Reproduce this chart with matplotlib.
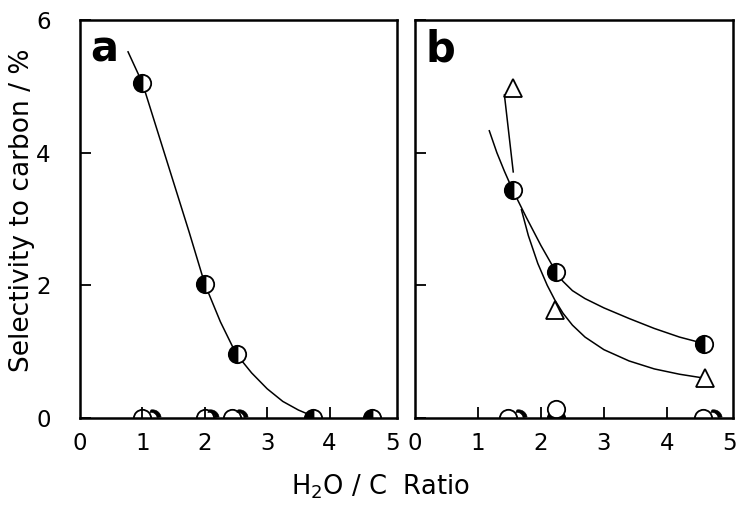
import numpy as np
import matplotlib
matplotlib.use('Agg')
import matplotlib.pyplot as plt
from matplotlib.path import Path

plt.rcParams['font.family'] = ['DejaVu Sans']

# ---- panel a data ----
a_half_x = [1.0, 2.0, 2.52, 3.74, 4.68]
a_half_y = [5.05, 2.02, 0.97, 0.0, 0.0]
a_zero_x = [1.0, 2.0, 2.44]          # open circles (with bar for first two)
a_bar_x = [1.0, 2.0]
a_cres_x = [1.15, 2.09, 2.54]        # crescent marks
a_curve_x = [0.77, 1.0, 1.25, 1.5, 1.75, 2.0, 2.25, 2.5, 2.75, 3.0, 3.25, 3.5, 3.75]
a_curve_y = [5.52, 5.05, 4.3, 3.55, 2.8, 2.02, 1.45, 0.97, 0.68, 0.44, 0.25, 0.12, 0.02]

# ---- panel b data ----
b_half_x = [1.55, 2.24, 4.59]
b_half_y = [3.44, 2.2, 1.12]
b_tri_x = [1.55, 2.22, 4.6]
b_tri_y = [4.97, 1.63, 0.6]
b_open_x = [1.48, 2.24, 4.57]
b_open_y = [0.0, 0.13, 0.0]
b_fill_x = [2.24]
b_fill_y = [0.0]
b_cres_x = [1.64, 4.73]
b_up_x = [1.18, 1.3, 1.42, 1.55, 1.77, 2.0, 2.12, 2.24, 2.35, 2.5, 2.7, 3.0, 3.4, 3.8, 4.2, 4.6]
b_up_y = [4.33, 4.0, 3.72, 3.44, 3.02, 2.6, 2.4, 2.2, 2.06, 1.92, 1.8, 1.66, 1.5, 1.35, 1.22, 1.12]
b_lo1_x = [1.42, 1.56]
b_lo1_y = [4.87, 3.71]
b_lo2_x = [1.69, 1.8, 1.95, 2.1, 2.22, 2.35, 2.5, 2.7, 3.0, 3.4, 3.8, 4.2, 4.6]
b_lo2_y = [3.14, 2.75, 2.33, 2.0, 1.78, 1.58, 1.4, 1.22, 1.03, 0.86, 0.74, 0.66, 0.6]

x_ticks = [0, 1, 2, 3, 4, 5]
y_ticks = [0, 2, 4, 6]

# crescent marker shape
t1 = np.linspace(np.radians(10), np.radians(100), 20)
t2 = t1[::-1]
outer = np.column_stack([np.cos(t1), np.sin(t1)])
inner = np.column_stack([0.72 * np.cos(t2) - 0.18, 0.72 * np.sin(t2)])
cres = Path(np.vstack([outer, inner, outer[:1]]), closed=True)

ms = 12.5
fig = plt.figure(figsize=(7.36, 5.08), dpi=100)
axa = fig.add_axes([80 / 736, 90 / 508, 317 / 736, 398 / 508])
axb = fig.add_axes([415 / 736, 90 / 508, 318 / 736, 398 / 508])

for ax in (axa, axb):
    ax.set_ylim(0, 6)
    ax.set_xticks(x_ticks)
    ax.set_yticks(y_ticks)
    for s in ax.spines.values():
        s.set_linewidth(1.8)
    ax.tick_params(direction='in', length=8, width=1.3, labelsize=16.5)
    ax.tick_params(axis='x', pad=10)
    ax.tick_params(axis='y', pad=21)

axa.set_xlim(0, 5.08)
axb.set_xlim(0, 5.05)
axb.set_yticklabels([])
for ax in (axa, axb):
    ax.xaxis.get_major_ticks()[-1].tick1line.set_visible(False)
    ax.xaxis.get_major_ticks()[0].tick1line.set_visible(False)

# panel a
axa.plot(a_curve_x, a_curve_y, color='black', lw=1.1)
axa.plot(a_zero_x, [0] * len(a_zero_x), 'o', ms=ms, mfc='white', mec='black', mew=1.3)
axa.plot(a_bar_x, [0] * len(a_bar_x), '|', ms=ms, mec='black', mew=1.3)
axa.plot(a_cres_x, [0] * len(a_cres_x), marker=cres, ls='none', ms=ms, mfc='black', mec='black', mew=0.5)
axa.plot(a_half_x, a_half_y, 'o', ms=ms, fillstyle='left', mfc='black', mfcalt='white', mec='black', mew=1.3)
axa.text(0.076, 0.925, 'a', transform=axa.transAxes, fontsize=30, fontweight='bold',
         ha='center', va='center')

# panel b
axb.plot(b_up_x, b_up_y, color='black', lw=1.1)
axb.plot(b_lo1_x, b_lo1_y, color='black', lw=1.1)
axb.plot(b_lo2_x, b_lo2_y, color='black', lw=1.1)
axb.plot(b_fill_x, b_fill_y, 'o', ms=ms, mfc='black', mec='black', mew=1.3)
axb.plot(b_open_x, b_open_y, 'o', ms=ms, mfc='white', mec='black', mew=1.3)
axb.plot(b_cres_x, [0] * len(b_cres_x), marker=cres, ls='none', ms=ms, mfc='black', mec='black', mew=0.5)
axb.plot(b_half_x, b_half_y, 'o', ms=ms, fillstyle='left', mfc='black', mfcalt='white', mec='black', mew=1.3)
axb.plot(b_tri_x, b_tri_y, '^', ms=ms, mfc='white', mec='black', mew=1.3)
axb.text(0.079, 0.925, 'b', transform=axb.transAxes, fontsize=30, fontweight='bold',
         ha='center', va='center')

fig.text(22 / 736, 1 - 210 / 508, 'Selectivity to carbon / %', rotation=90,
         ha='center', va='center', fontsize=19)
fig.text(380 / 736, 1 - 487 / 508, 'H$_2$O / C  Ratio', ha='center', va='center', fontsize=18.5)

fig.savefig('out.png', dpi=100)
